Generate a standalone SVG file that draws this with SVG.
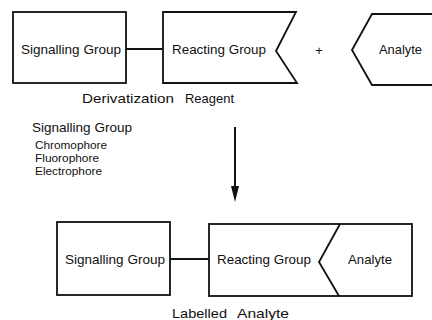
<svg xmlns="http://www.w3.org/2000/svg" width="432" height="320" viewBox="0 0 432 320">
<style>
.box{fill:none;stroke:#111;stroke-width:1.8;stroke-linejoin:miter}
.conn{stroke:#111;stroke-width:2;fill:none}
text{font-family:"Liberation Sans",Arial,sans-serif;fill:#111}
.lbl{font-size:13px}
.cap{font-size:13.5px}
.sm{font-size:11px}
</style>
<rect width="432" height="320" fill="#fff"/>
<g id="sig-top">
<rect class="box" x="13" y="12" width="113" height="71"/>
<text class="lbl" x="21" y="54" textLength="100" lengthAdjust="spacingAndGlyphs">Signalling Group</text>
</g>
<g id="react-top">
<polygon class="box" points="163,12 296,12 276,51 297,83 163,83"/>
<text class="lbl" x="172" y="54" textLength="94" lengthAdjust="spacingAndGlyphs">Reacting Group</text>
</g>
<g id="plus">
<text class="lbl" x="319" y="55" text-anchor="middle">+</text>
</g>
<g id="analyte-top">
<polyline class="box" points="434,14 372,14 352,50 372,85 434,85"/>
<text class="lbl" x="379" y="54" textLength="43" lengthAdjust="spacingAndGlyphs">Analyte</text>
</g>
<g id="reagent-label">
<text class="cap" x="82" y="103" textLength="92" lengthAdjust="spacingAndGlyphs">Derivatization</text>
<text class="cap" x="185" y="103" textLength="49" lengthAdjust="spacingAndGlyphs">Reagent</text>
</g>
<g id="sig-list">
<text class="lbl" x="32" y="132" textLength="100" lengthAdjust="spacingAndGlyphs">Signalling Group</text>
<text class="sm" x="35" y="149" textLength="72" lengthAdjust="spacingAndGlyphs">Chromophore</text>
<text class="sm" x="35" y="162" textLength="64" lengthAdjust="spacingAndGlyphs">Fluorophore</text>
<text class="sm" x="35" y="175" textLength="67" lengthAdjust="spacingAndGlyphs">Electrophore</text>
</g>
<g id="sig-bottom">
<rect class="box" x="57" y="222" width="113" height="73"/>
<text class="lbl" x="65" y="264" textLength="100" lengthAdjust="spacingAndGlyphs">Signalling Group</text>
</g>
<g id="labelled-bottom">
<rect class="box" x="209" y="224" width="203" height="72"/>
<polyline class="box" points="340,224 319,262 339,296"/>
<text class="lbl" x="217" y="264" textLength="94" lengthAdjust="spacingAndGlyphs">Reacting Group</text>
<text class="lbl" x="348" y="264" textLength="44" lengthAdjust="spacingAndGlyphs">Analyte</text>
</g>
<g id="labelled-label">
<text class="cap" x="172" y="318" textLength="55" lengthAdjust="spacingAndGlyphs">Labelled</text>
<text class="cap" x="237" y="318" textLength="52" lengthAdjust="spacingAndGlyphs">Analyte</text>
</g>
<g id="connectors">
<line class="conn" x1="126" y1="49" x2="163" y2="49"/>
<line class="conn" x1="170" y1="259" x2="209" y2="259"/>
<line class="conn" x1="235" y1="127" x2="235" y2="190"/>
<polygon points="231,186 239,186 235,202" fill="#111"/>
</g>
</svg>
